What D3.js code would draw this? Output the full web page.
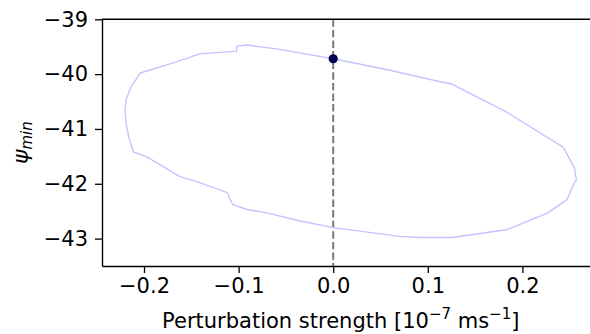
<!DOCTYPE html>
<html lang="en">
<head>
<meta charset="UTF-8">
<title>psi min vs perturbation</title>
<script src="https://d3js.org/d3.v7.min.js"></script>
<style>
  body { margin: 0; background: #fff; }
  text { font-family: "DejaVu Sans", sans-serif; fill: #000; }
</style>
</head>
<body>
<div id="chart"></div>
<script>
// loop traced clockwise from the marked point
const strength = [0.000, 0.060, 0.113, 0.125, 0.183, 0.243, 0.255, 0.257, 0.255, 0.247, 0.227,
  0.183, 0.126, 0.091, 0.070, 0.000, -0.035, -0.070, -0.091, -0.106, -0.109, -0.112, -0.141,
  -0.162, -0.197, -0.211, -0.216, -0.219, -0.220, -0.219, -0.214, -0.204, -0.170, -0.141, -0.102, -0.102, -0.091,
  -0.060, 0.000];
const psiMin = [-39.72, -39.93, -40.14, -40.18, -40.69, -41.33, -41.71, -41.93, -41.98, -42.29, -42.53,
  -42.84, -42.98, -42.98, -42.96, -42.80, -42.68, -42.53, -42.47, -42.38, -42.29, -42.16, -41.98,
  -41.87, -41.51, -41.42, -41.16, -40.90, -40.68, -40.47, -40.24, -39.98, -39.80, -39.63, -39.58, -39.49, -39.47,
  -39.54, -39.72];
const current = { x: 0.0, y: -39.72 };
const xTicks = [-0.2, -0.1, 0.0, 0.1, 0.2];
const yTicks = [-39, -40, -41, -42, -43];

const W = 590, H = 334;
const margin = { top: 19.3, right: -10, bottom: 68, left: 102 };
const iw = W - margin.left - margin.right,
      ih = H - margin.top - margin.bottom;

const svg = d3.select("#chart").append("svg").attr("width", W).attr("height", H);
const g = svg.append("g").attr("transform", `translate(${margin.left},${margin.top})`);

const x = d3.scaleLinear().domain([-0.2444, 0.282]).range([0, iw]);
const y = d3.scaleLinear().domain([-43.5, -39]).range([ih, 0]);

const fmt = d => d3.format(".1f")(d).replace("-", "\u2212");

// vertical dashed line at zero
g.append("line")
  .attr("x1", x(0)).attr("x2", x(0))
  .attr("y1", 0).attr("y2", ih)
  .attr("stroke", "#7a7a7a").attr("stroke-width", 2)
  .attr("stroke-dasharray", "7.4,3.2");

const line = d3.line().x((d, i) => x(strength[i])).y((d, i) => y(psiMin[i]));
g.append("path")
  .attr("d", line(strength))
  .attr("fill", "none")
  .attr("stroke", "#c4c4ff")
  .attr("stroke-width", 1.4)
  .attr("stroke-linejoin", "round");

g.append("circle")
  .attr("cx", x(current.x)).attr("cy", y(current.y))
  .attr("r", 4.6).attr("fill", "#000058");

// axes
const xAxis = g.append("g").attr("transform", `translate(0,${ih})`)
  .call(d3.axisBottom(x).tickValues(xTicks).tickSize(7).tickSizeOuter(0).tickPadding(5).tickFormat(fmt));
const yAxis = g.append("g")
  .call(d3.axisLeft(y).tickValues(yTicks).tickSize(7).tickSizeOuter(0).tickPadding(7)
    .tickFormat(d => String(d).replace("-", "\u2212")));
[xAxis, yAxis].forEach(a => {
  a.select(".domain").attr("stroke-width", 1.4).attr("stroke", "#000");
  a.selectAll(".tick line").attr("stroke-width", 1.3);
  a.selectAll(".tick text").attr("font-size", "21px").attr("font-family", "DejaVu Sans");
});
g.append("line").attr("x1", 0).attr("x2", iw).attr("y1", 0).attr("y2", 0)
  .attr("stroke", "#000").attr("stroke-width", 1.4);

// labels
const xl = svg.append("text")
  .attr("x", margin.left + x(0.008)).attr("y", 328)
  .attr("text-anchor", "middle").attr("font-size", "21px");
xl.append("tspan").text("Perturbation strength [10");
xl.append("tspan").attr("font-size", "15px").attr("dy", -9).text("\u22127");
xl.append("tspan").attr("dy", 9).text(" ms");
xl.append("tspan").attr("font-size", "15px").attr("dy", -9).text("\u22121");
xl.append("tspan").attr("dy", 9).text("]");

const yl = svg.append("text")
  .attr("transform", `translate(28,${margin.top + ih / 2}) rotate(-90)`)
  .attr("text-anchor", "middle").attr("font-size", "22px");
yl.append("tspan").attr("font-style", "italic").text("\u03c8");
yl.append("tspan").attr("font-style", "italic").attr("font-size", "15px").attr("dy", 4).text("min");
</script>
</body>
</html>
